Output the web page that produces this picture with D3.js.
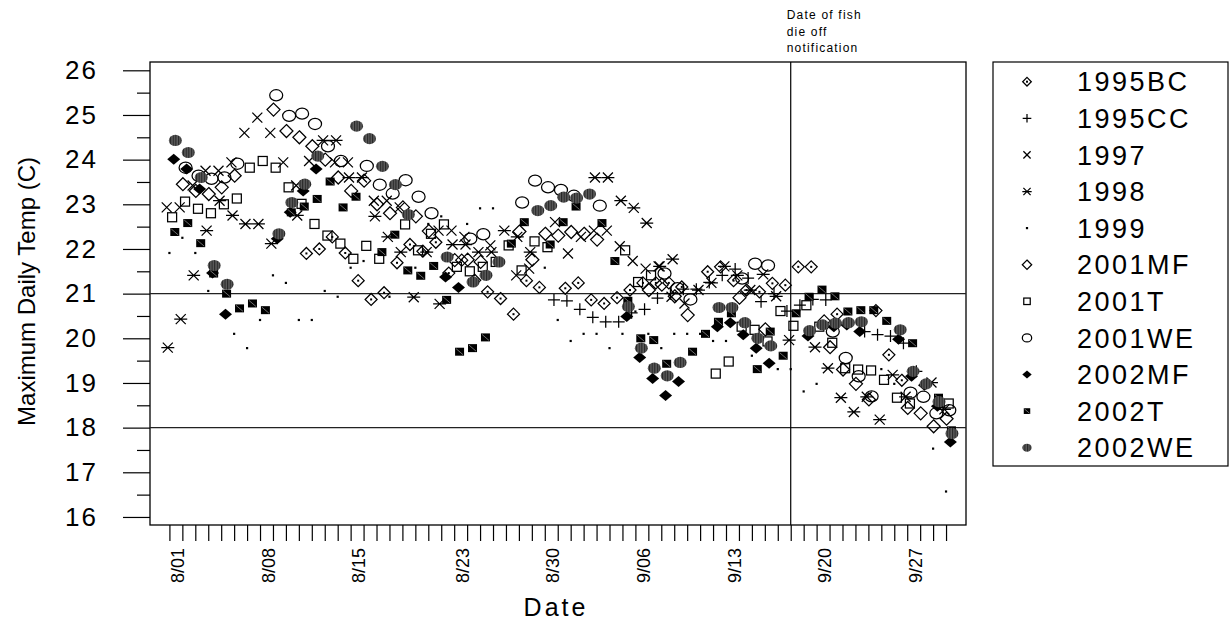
<!DOCTYPE html>
<html><head><meta charset="utf-8">
<script src="https://cdn.jsdelivr.net/npm/d3@7"></script>
<style>
body{margin:0;background:#fff}
svg{display:block}
text{font-family:"Liberation Sans",Arial,Helvetica,sans-serif;fill:#000}
</style>
</head><body>
<svg id="chart" width="1230" height="621"></svg>
<script>
// ---------------- data ----------------
const year = 2002;
const firstDay = "8/01";
const lastDay = "9/30";
const tickLabels = ["8/01","8/08","8/15","8/23","8/30","9/06","9/13","9/20","9/27"];
const yTicks = [16,17,18,19,20,21,22,23,24,25,26];
const refTemps = [21, 18];
const dieOffDay = "9/18";
const dieOffNote = ["Date of fish","die off","notification"];
const seriesNames = ["1995BC","1995CC","1997","1998","1999","2001MF","2001T","2001WE","2002MF","2002T","2002WE"];
// hour of day at which each series' daily maximum is stamped (relative to midnight)
const seriesHour = [14, 17, -5, -3, 0, 1, 5, 6, 8, 10, 11];

const s1995BC = [null,null,null,null,null,null,null,null,null,null,
 21.9,22.0,22.27,21.91,21.29,20.87,21.02,21.69,22.1,21.95,
 22.15,21.46,21.75,21.3,21.04,20.89,20.54,21.29,21.14,null,
 21.12,21.24,20.86,20.78,20.91,21.08,21.24,21.24,21.24,21.15,
 null,21.49,21.6,21.29,21.08,21.04,21.23,21.19,21.6,21.6,
 20.39,20.54,null,null,20.62,19.63,19.06,null,null,null,null];
const s1995CC = [null,null,null,null,null,null,null,null,null,null,
 null,null,null,null,null,null,null,null,null,null,
 null,null,null,null,null,null,null,null,null,20.86,
 20.84,20.65,20.47,20.37,20.37,20.57,20.65,20.9,21.0,21.1,
 21.1,21.25,21.41,21.55,21.35,20.82,21.0,20.61,20.74,20.87,
 20.86,null,null,20.15,20.08,20.05,19.89,19.26,null,null,null];
const s1997 = [22.93,22.93,23.42,23.75,23.75,23.94,24.6,24.94,24.6,23.94,
 23.42,23.97,null,23.94,23.94,null,23.08,23.08,22.93,null,
 null,22.41,22.41,22.27,null,22.08,null,21.41,21.56,null,
 22.6,21.9,22.27,22.41,22.41,22.06,21.73,21.56,21.61,20.93,
 20.78,null,null,null,null,null,null,null,null,null,
 null,null,null,null,null,null,null,null,null,null,null];
const s1998 = [19.79,20.43,21.41,22.41,23.08,22.75,22.56,22.56,22.12,null,
 22.75,null,24.43,24.43,23.6,23.6,22.73,22.27,21.93,20.92,
 21.93,20.77,22.1,22.1,21.93,21.93,22.41,22.27,21.93,null,
 null,null,null,23.6,23.6,23.08,22.92,22.58,21.61,21.77,
 null,21.08,21.24,21.61,21.41,21.08,21.43,20.94,19.96,null,
 19.8,19.33,18.67,18.35,18.69,18.18,19.18,18.69,null,19.01,18.41];
const s1999 = [21.91,22.25,21.91,21.06,null,20.1,19.78,20.41,21.41,21.24,
 20.41,20.41,21.06,20.93,21.58,21.73,null,20.93,null,21.58,
 22.56,22.73,null,22.56,22.91,22.91,null,null,null,21.58,
 20.41,19.94,20.1,20.1,19.78,20.1,20.6,20.1,19.78,20.1,
 20.1,20.1,19.94,19.94,null,19.61,null,19.31,19.31,18.81,
 18.98,null,null,null,null,19.31,18.98,null,null,17.53,16.57];
const s2001MF = [null,23.45,23.3,23.23,23.38,23.64,null,null,25.12,24.64,
 24.5,24.3,24.0,23.6,23.3,23.53,23.0,22.8,22.93,22.73,
 22.4,null,21.75,21.76,21.71,null,null,22.39,21.76,22.34,
 22.3,22.38,22.34,22.21,null,null,null,21.08,21.2,20.94,
 20.52,null,null,null,20.91,null,20.2,null,null,null,
 null,19.8,19.3,18.98,18.63,null,null,18.44,18.32,18.03,18.2];
const s2001T = [22.71,23.06,22.9,22.8,23.0,23.13,23.82,23.97,23.82,23.38,
 23.01,22.56,22.3,22.12,21.78,22.07,21.78,null,22.55,21.97,
 22.34,22.55,21.6,21.5,21.6,21.71,22.08,21.52,22.17,22.04,
 null,null,null,null,null,21.97,21.26,21.41,null,null,
 null,null,19.21,19.48,20.26,20.19,19.93,20.61,20.28,20.74,
 20.26,19.9,19.33,19.3,19.28,19.07,18.67,18.54,null,null,18.54];
const s2001WE = [null,23.82,23.64,23.57,23.6,23.91,null,null,25.44,24.98,
 25.03,24.8,24.3,23.97,null,23.86,23.44,23.24,23.54,23.17,
 22.8,null,null,22.23,22.33,null,null,23.04,23.53,23.38,
 23.32,23.19,null,22.97,null,null,null,null,21.45,21.12,
 20.87,null,null,null,21.34,21.67,21.63,null,null,null,
 null,20.15,19.56,19.15,18.7,null,null,18.78,18.69,18.32,18.39];
const s2002MF = [24.01,23.79,23.34,21.46,20.54,null,null,null,22.23,22.82,
 23.3,23.79,null,null,null,null,null,null,null,null,
 null,21.37,21.14,null,null,null,null,null,null,null,
 null,null,null,null,null,20.49,19.57,19.1,18.72,19.03,
 null,null,20.26,20.35,20.08,19.78,19.44,null,null,20.05,
 null,20.26,20.3,20.15,null,null,19.98,19.15,18.95,18.48,17.68];
const s2002T = [22.38,22.58,22.13,21.45,21.0,20.67,20.78,20.63,null,22.82,
 22.95,23.12,23.51,22.93,23.17,null,21.93,22.32,21.52,21.4,
 21.62,20.86,19.7,19.78,20.02,null,22.12,22.6,null,22.1,
 22.6,22.95,null,22.58,21.73,20.84,20.0,19.96,19.43,null,
 19.7,20.1,20.37,20.56,null,19.31,20.15,19.61,20.56,20.93,
 21.09,20.94,20.6,20.63,20.63,20.39,null,19.89,null,18.67,17.94];
const s2002WE = [24.43,24.16,23.6,21.63,21.21,null,null,null,22.34,23.04,
 23.45,24.08,null,null,24.75,24.47,23.85,23.44,22.77,null,
 null,21.82,null,21.26,21.41,21.71,null,null,22.86,22.97,
 23.16,23.14,23.23,null,null,20.71,19.78,19.33,19.16,19.46,
 null,null,20.69,20.69,20.35,20.0,19.83,null,null,20.17,
 20.3,20.34,20.35,20.37,null,null,20.19,19.26,18.98,18.58,17.87];

const seriesValues = [s1995BC,s1995CC,s1997,s1998,s1999,s2001MF,s2001T,s2001WE,s2002MF,s2002T,s2002WE];
const seriesSymbols = ["diamondDot","plus","cross","asterisk","dot","diamond","square","circle","diamondFilled","squareFilled","circleHatched"];

// ---------------- layout ----------------
const svg = d3.select("#chart");
const plot = {left:150, right:966, top:62, bottom:525};
const parseMD = s => d3.utcParse("%Y/%m/%d")(year + "/" + s);
const start = parseMD(firstDay);
const days = d3.utcDay.range(start, d3.utcDay.offset(parseMD(lastDay), 1));

const x = d3.scaleUtc()
  .domain([d3.utcHour.offset(start, -35.8), d3.utcHour.offset(start, 61.57*24)])
  .range([plot.left, plot.right]);
const y = d3.scaleLinear().domain([15.82, 26.186]).range([plot.bottom, plot.top]);

const defs = svg.append("defs");
const pat = defs.append("pattern").attr("id","hatch").attr("patternUnits","userSpaceOnUse")
  .attr("width",2.6).attr("height",4);
pat.append("rect").attr("width",2.6).attr("height",4).attr("fill","#5c5c5c");
pat.append("rect").attr("width",1.1).attr("height",4).attr("fill","#262626");

function drawSymbol(g, type, k) {
  const sw = 1.25;
  if (type === "diamondDot") {
    g.append("path").attr("d",`M0,${-6*k}L${6*k},0L0,${6*k}L${-6*k},0Z`).attr("fill","none").attr("stroke","#000").attr("stroke-width",sw);
    g.append("rect").attr("x",-1).attr("y",-1).attr("width",2).attr("height",2).attr("fill","#000");
  } else if (type === "diamond") {
    g.append("path").attr("d",`M0,${-6.5*k}L${6.5*k},0L0,${6.5*k}L${-6.5*k},0Z`).attr("fill","none").attr("stroke","#000").attr("stroke-width",sw);
  } else if (type === "plus") {
    g.append("path").attr("d",`M${-6*k},0H${6*k}M0,${-6*k}V${6*k}`).attr("stroke","#000").attr("stroke-width",sw);
  } else if (type === "cross") {
    g.append("path").attr("d",`M${-5*k},${-5*k}L${5*k},${5*k}M${-5*k},${5*k}L${5*k},${-5*k}`).attr("stroke","#000").attr("stroke-width",sw);
  } else if (type === "asterisk") {
    g.append("path").attr("d",`M${-5*k},${-5*k}L${5*k},${5*k}M${-5*k},${5*k}L${5*k},${-5*k}M${-6.5*k},0H${6.5*k}`).attr("stroke","#000").attr("stroke-width",sw);
  } else if (type === "dot") {
    g.append("rect").attr("x",-1.1).attr("y",-1.1).attr("width",2.2).attr("height",2.2).attr("fill","#000");
  } else if (type === "square") {
    g.append("rect").attr("x",-4.5*k).attr("y",-4.5*k).attr("width",9*k).attr("height",9*k).attr("fill","none").attr("stroke","#000").attr("stroke-width",sw);
  } else if (type === "circle") {
    g.append("ellipse").attr("rx",6.5*k).attr("ry",5.6*k).attr("fill","none").attr("stroke","#000").attr("stroke-width",sw);
  } else if (type === "diamondFilled") {
    g.append("path").attr("d",`M0,${-5.5*k}L${6.5*k},0L0,${5.5*k}L${-6.5*k},0Z`).attr("fill","#000");
  } else if (type === "squareFilled") {
    g.append("rect").attr("x",-4.5*k).attr("y",-4*k).attr("width",9*k).attr("height",8*k).attr("fill","#000");
    g.append("path").attr("d",`M${-3.5*k},${-3*k}L${3.5*k},${3*k}`).attr("stroke","#8a8a8a").attr("stroke-width",0.8);
  } else if (type === "circleHatched") {
    g.append("ellipse").attr("rx",6.5*k).attr("ry",5.6*k).attr("fill","url(#hatch)");
  }
}

// ---------------- axes ----------------
const yMinor = d3.range(16.5, 26, 1);
svg.append("g").attr("transform",`translate(${plot.left},0)`)
  .call(d3.axisLeft(y).tickValues(yMinor).tickSize(13).tickFormat(""))
  .call(g => g.select(".domain").remove())
  .call(g => g.selectAll("line").attr("stroke","#000").attr("stroke-width",1.2));
svg.append("g").attr("transform",`translate(${plot.left},0)`)
  .call(d3.axisLeft(y).tickValues(yTicks).tickSize(27).tickPadding(25).tickFormat(d3.format("d")))
  .call(g => g.select(".domain").remove())
  .call(g => g.selectAll("line").attr("stroke","#000").attr("stroke-width",1.2))
  .call(g => g.selectAll("text").attr("font-size",26).attr("letter-spacing",2)
     .attr("font-family","Liberation Sans, Arial, sans-serif").attr("fill","#000"));

const tickDates = tickLabels.map(parseMD);
svg.append("g").attr("transform",`translate(0,${plot.bottom})`)
  .call(d3.axisBottom(x).tickValues(days).tickSize(16).tickFormat(""))
  .call(g => g.select(".domain").remove())
  .call(g => g.selectAll("line").attr("stroke","#000").attr("stroke-width",1.2));
const xLab = svg.append("g").attr("transform",`translate(0,${plot.bottom})`)
  .call(d3.axisBottom(x).tickValues(tickDates).tickSize(0).tickFormat((d,i) => tickLabels[i]))
  .call(g => g.select(".domain").remove());
xLab.selectAll("text")
  .attr("transform","rotate(-90)")
  .attr("text-anchor","end")
  .attr("x",-23).attr("y",14).attr("dy",null)
  .attr("font-size",18).attr("font-family","Liberation Sans, Arial, sans-serif").attr("fill","#000");

svg.append("text").attr("x",(plot.left+plot.right)/2 - 2).attr("y",616)
  .attr("text-anchor","middle").attr("font-size",25).attr("letter-spacing",3).text("Date");
svg.append("text").attr("transform",`translate(35,${(plot.top+plot.bottom)/2 - 2}) rotate(-90)`)
  .attr("text-anchor","middle").attr("font-size",24).text("Maximum Daily Temp (C)");

// ---------------- plot frame & reference lines ----------------
svg.append("rect").attr("x",plot.left).attr("y",plot.top)
  .attr("width",plot.right-plot.left).attr("height",plot.bottom-plot.top)
  .attr("fill","none").attr("stroke","#000").attr("stroke-width",1.3);
svg.selectAll(".ref").data(refTemps).enter().append("line")
  .attr("x1",plot.left).attr("x2",plot.right)
  .attr("y1",d=>y(d)).attr("y2",d=>y(d))
  .attr("stroke","#222").attr("stroke-width",1.2);
const dieX = x(parseMD(dieOffDay));
svg.append("line").attr("x1",dieX).attr("x2",dieX).attr("y1",plot.top).attr("y2",plot.bottom)
  .attr("stroke","#000").attr("stroke-width",1.2);
svg.append("g").selectAll("text").data(dieOffNote).enter().append("text")
  .attr("x",dieX-4).attr("y",(d,i)=>19+i*16.5)
  .attr("font-size",12).attr("letter-spacing",1.2).text(d=>d);

// ---------------- points ----------------
seriesNames.forEach((name, si) => {
  const vals = seriesValues[si];
  const pts = days.map((d,i)=>({date:d3.utcHour.offset(d, seriesHour[si]), v:vals[i]})).filter(p=>p.v!==null);
  const g = svg.append("g").attr("class","series-"+name);
  g.selectAll("g").data(pts).enter().append("g")
    .attr("transform",p=>`translate(${x(p.date)},${y(p.v)})`)
    .each(function(){ drawSymbol(d3.select(this), seriesSymbols[si], 1); });
});

// ---------------- legend ----------------
const leg = {left:993, top:62, right:1228, bottom:466, row0:81.7, step:36.6};
svg.append("rect").attr("x",leg.left).attr("y",leg.top)
  .attr("width",leg.right-leg.left).attr("height",leg.bottom-leg.top)
  .attr("fill","none").attr("stroke","#000").attr("stroke-width",1.2);
seriesNames.forEach((name, si) => {
  const ry = leg.row0 + si*leg.step;
  const sg = svg.append("g").attr("transform",`translate(1027,${ry})`);
  drawSymbol(sg, seriesSymbols[si], 0.72);
  svg.append("text").attr("x",1077).attr("y",ry).attr("dy","0.36em")
    .attr("font-size",27).attr("letter-spacing",2.5).text(name);
});
</script>
</body></html>
